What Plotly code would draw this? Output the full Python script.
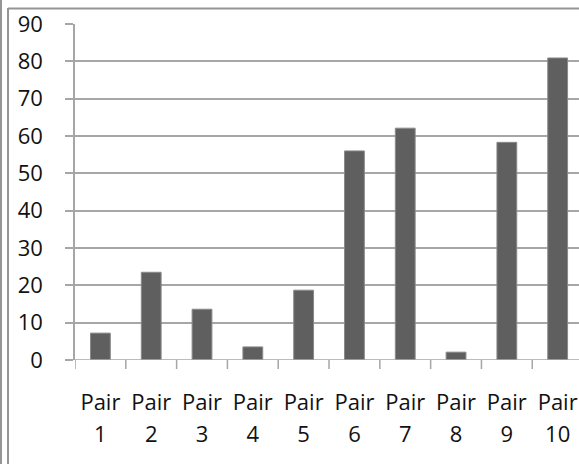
import plotly.graph_objects as go

pair_labels = ["Pair"] * 10
pair_numbers = ["1", "2", "3", "4", "5", "6", "7", "8", "9", "10"]
values = [7.2, 23.5, 13.6, 3.5, 18.7, 56.0, 62.1, 2.1, 58.3, 80.9]
y_ticks = [0, 10, 20, 30, 40, 50, 60, 70, 80, 90]

W, H = 579, 464
grid = "#a6a6a6"
frame = "#959595"
font = dict(family="Open Sans", size=22, color="#111111")
positions = list(range(len(pair_numbers)))

fig = go.Figure(go.Bar(
    x=positions,
    y=values,
    marker=dict(color="#5f5f5f", line=dict(color="#8a8a8a", width=1)),
    width=0.39,
))
# invisible trace carrying the second row of category labels
fig.add_trace(go.Scatter(x=positions, y=[None] * len(positions), xaxis="x2",
                         mode="markers", showlegend=False, hoverinfo="skip"))

xcommon = dict(
    tickmode="array",
    tickvals=positions,
    range=[-0.5, 9.42],
    showgrid=False, zeroline=False, showline=False, ticks="",
    tickfont=font, fixedrange=True,
)

fig.update_layout(
    width=W, height=H,
    margin=dict(l=75, r=0, t=24, b=104),
    paper_bgcolor="white", plot_bgcolor="white",
    showlegend=False,
    font=font,
    bargap=0.61,
    xaxis=dict(ticktext=pair_labels, ticklabelstandoff=27, **xcommon),
    xaxis2=dict(ticktext=pair_numbers, overlaying="x", side="bottom",
                anchor="y", ticklabelstandoff=59, **xcommon),
    yaxis=dict(
        range=[0, 90],
        tickvals=y_ticks,
        showgrid=True, gridcolor=grid, gridwidth=1.5,
        zeroline=False,
        showline=True, linecolor=grid, linewidth=1.5,
        ticks="outside", ticklen=8, tickcolor=grid, tickwidth=1.5,
        ticklabelstandoff=18,
        tickfont=font,
    ),
)

# category boundary ticks below the baseline
for i in positions:
    fig.add_shape(type="line", xref="x", yref="paper",
                  x0=i - 0.5, x1=i - 0.5, y0=0, y1=-9 / 336,
                  line=dict(color=grid, width=1.5))
# baseline
fig.add_shape(type="line", xref="paper", yref="y", x0=0, x1=1, y0=0, y1=0,
              line=dict(color=grid, width=1.5))

# outer chart frame
def px(x):
    return (x - 75) / (W - 75)

def py(y):
    return (H - 104 - y) / (H - 104 - 24)

fig.add_shape(type="line", xref="paper", yref="paper",
              x0=px(1), x1=px(1), y0=py(0), y1=py(H),
              line=dict(color=frame, width=2))
fig.add_shape(type="line", xref="paper", yref="paper",
              x0=px(8), x1=px(8), y0=py(8), y1=py(H),
              line=dict(color=frame, width=2))
fig.add_shape(type="line", xref="paper", yref="paper",
              x0=px(8), x1=px(W), y0=py(8.5), y1=py(8.5),
              line=dict(color=frame, width=2))

fig.write_html("out.html")
